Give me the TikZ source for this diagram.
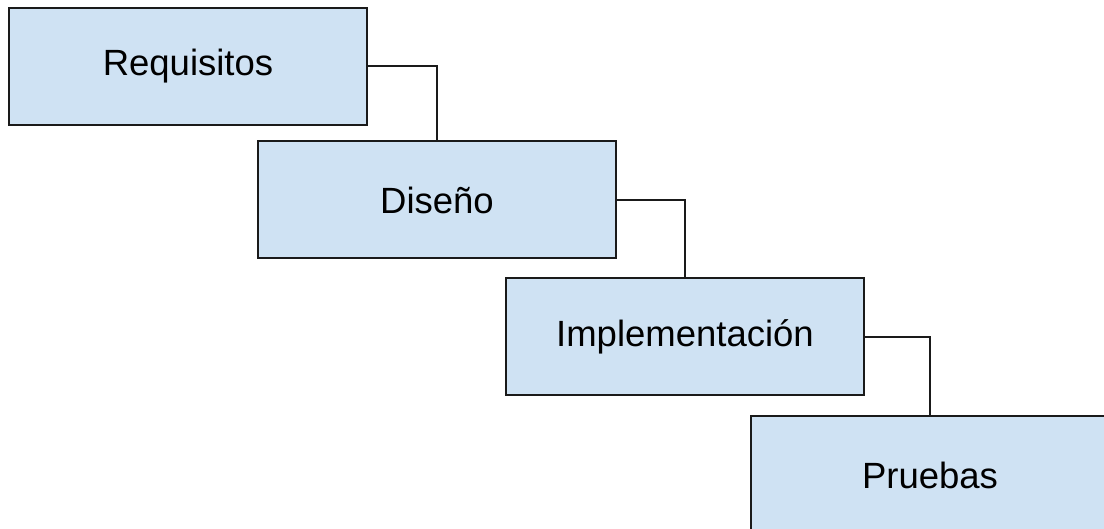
\documentclass[tikz,border=0pt]{standalone}
\usepackage{fontspec}
\setmainfont{Liberation Sans}
\definecolor{boxfill}{HTML}{CFE2F3}
\definecolor{boxline}{HTML}{1A1A1A}
\begin{document}
\begin{tikzpicture}[x=1pt,y=-1pt,
  stage/.style={draw=boxline, line width=2pt, fill=boxfill, minimum width=358pt, minimum height=117pt, inner sep=0pt, font=\fontsize{36.5}{40}\selectfont},
  link/.style={draw=boxline, line width=2pt}]
\useasboundingbox (0,0) rectangle (1104,529);
\clip (0,0) rectangle (1104,529);
\node[stage] (req) at (188,66.5) {Requisitos};
\node[stage] (dis) at (437,200) {Diseño};
\node[stage] (imp) at (685,337) {Implementación};
\node[stage] (pru) at (930,475) {Pruebas};
\draw[link] (req.east) -| (dis.north);
\draw[link] (dis.east) -| (imp.north);
\draw[link] (imp.east) -| (pru.north);
\end{tikzpicture}
\end{document}
